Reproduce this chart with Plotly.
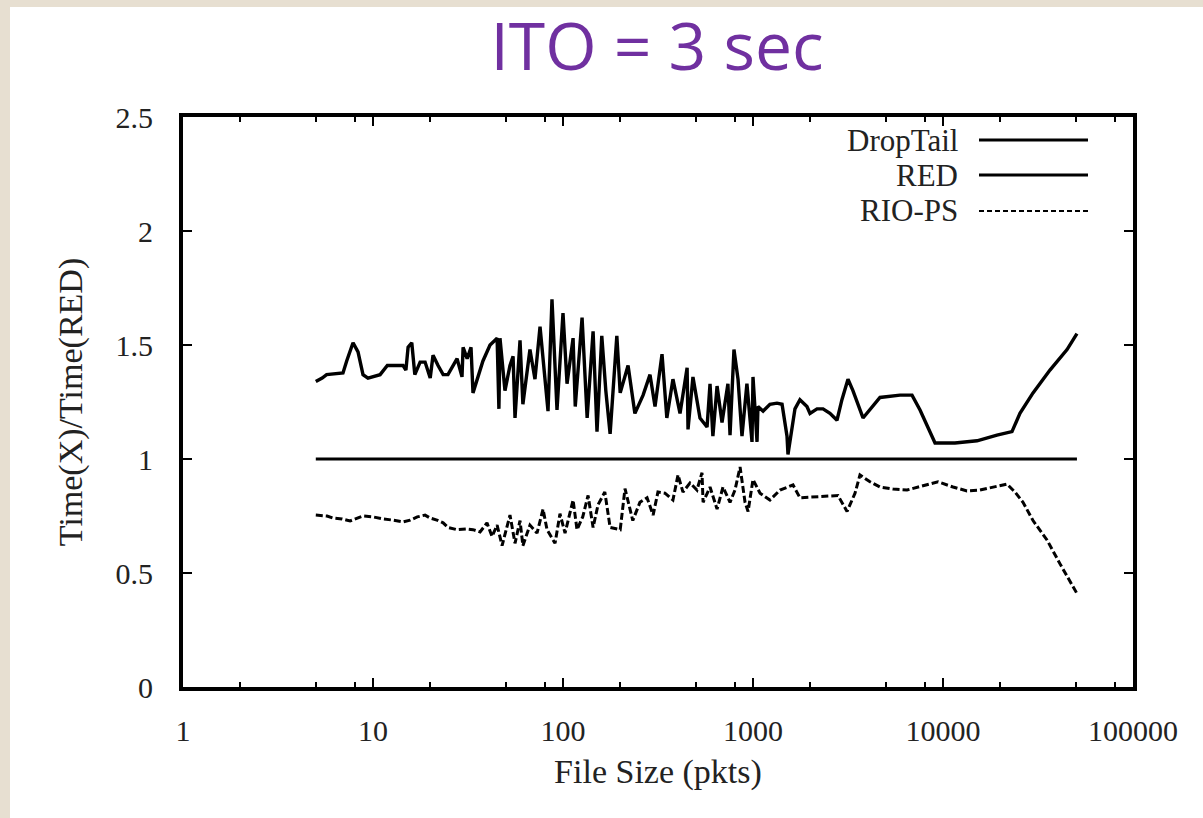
import plotly.graph_objects as go

# ---------------- data ----------------
droptail_x = [5, 5.4, 5.7, 6.95, 7.27, 7.85, 8.34, 8.86, 9.41, 10.9, 11.9, 14.4, 14.9, 15.3, 16.0,
              16.6, 17.7, 18.8, 20.0, 20.7, 22.0, 23.4, 24.8, 26.1, 27.7, 29.4, 29.8, 31.3, 32.8,
              33.6, 35.3, 37.9, 41.3, 45.0, 46.0, 46.6, 49.5, 52.6, 54.6, 55.9, 59.4, 61.5, 67.0,
              71.2, 75.7, 83.4, 87.5, 93.0, 100, 105, 113, 116, 126, 131, 134, 144, 151, 160, 168,
              177, 192, 200, 220, 239, 264, 287, 305, 332, 352, 379, 413, 450, 455, 483, 526, 573,
              594, 615, 647, 687, 738, 757, 794, 834, 875, 929, 988, 1000, 1050, 1062, 1130, 1228,
              1337, 1422, 1510, 1528, 1604, 1663, 1766, 1923, 1995, 2173, 2336, 2541, 2767, 2938,
              3162, 3357, 3793, 4660, 5940, 6870, 7570, 9080, 11560, 15100, 19230, 23070, 25410,
              29770, 36560, 44960, 50700]
droptail_y = [1.34, 1.355, 1.37, 1.377, 1.43, 1.51, 1.47, 1.37, 1.355, 1.37, 1.41, 1.41, 1.39, 1.49, 1.51,
              1.37, 1.425, 1.425, 1.355, 1.455, 1.41, 1.37, 1.37, 1.40, 1.44, 1.36, 1.49, 1.44, 1.49,
              1.29, 1.35, 1.43, 1.50, 1.53, 1.22, 1.53, 1.30, 1.41, 1.45, 1.18, 1.52, 1.24, 1.48,
              1.35, 1.58, 1.21, 1.70, 1.215, 1.64, 1.33, 1.53, 1.23, 1.62, 1.35, 1.18, 1.56, 1.12, 1.54, 1.30,
              1.11, 1.54, 1.29, 1.41, 1.20, 1.28, 1.37, 1.23, 1.46, 1.18, 1.35, 1.20, 1.40, 1.13, 1.36, 1.18, 1.14,
              1.33, 1.10, 1.32, 1.16, 1.33, 1.105, 1.48, 1.35, 1.10, 1.33, 1.075, 1.36, 1.075, 1.23, 1.21, 1.24,
              1.245, 1.24, 1.10, 1.02, 1.14, 1.22, 1.26, 1.23, 1.20, 1.22, 1.22, 1.20, 1.17, 1.26,
              1.35, 1.30, 1.18, 1.27, 1.28, 1.28, 1.215, 1.07, 1.07, 1.08, 1.105, 1.12, 1.20,
              1.29, 1.39, 1.48, 1.55]

red_x = [5, 50700]
red_y = [1.0, 1.0]

riops_x = [5, 5.73, 6.16, 6.87, 7.57, 8.24, 8.86, 10, 11.3, 12.7, 14.4, 15.7, 17.1, 18.8, 20, 21.7,
           23.4, 24.8, 27.7, 31.3, 33.6, 36.6, 39.8, 42.3, 45.0, 47.8, 52.6, 55.9, 59.4, 61.5, 67,
           73, 78.5, 82.4, 90.8, 96.4, 102.5, 113, 118.5, 127, 135.5, 144, 153, 166, 177, 200, 212,
           233, 254, 277, 298, 316, 344, 379, 403, 428, 466, 507, 539, 546, 594, 647, 695, 757, 804,
           855, 908, 942, 1000, 1089, 1228, 1387, 1624, 1766, 2069, 2800, 3126, 3443, 3656, 4126,
           4660, 5458, 6467, 7570, 9414, 11290, 13370, 15660, 18330, 21720, 23930, 26370, 29770,
           35260, 41300, 48300, 50700]
riops_y = [0.754, 0.75, 0.741, 0.737, 0.728, 0.741, 0.75, 0.746, 0.737, 0.732, 0.724, 0.732, 0.746, 0.754, 0.741, 0.732,
           0.72, 0.70, 0.69, 0.693, 0.69, 0.68, 0.72, 0.66, 0.71, 0.62, 0.754, 0.63, 0.73, 0.62, 0.71,
           0.675, 0.78, 0.69, 0.63, 0.76, 0.675, 0.82, 0.69, 0.746, 0.84, 0.70, 0.80, 0.855, 0.70, 0.69, 0.87,
           0.73, 0.81, 0.83, 0.754, 0.855, 0.85, 0.82, 0.93, 0.855, 0.895, 0.864, 0.94, 0.81, 0.877, 0.78, 0.877, 0.81, 0.864,
           0.965, 0.81, 0.77, 0.91, 0.85, 0.82, 0.864, 0.886, 0.83, 0.833, 0.84, 0.77, 0.85, 0.93, 0.90,
           0.877, 0.868, 0.864, 0.88, 0.90, 0.877, 0.86, 0.864, 0.877, 0.89, 0.855, 0.81, 0.73,
           0.645, 0.54, 0.44, 0.41]

series_names = ["DropTail", "RED", "RIO-PS"]
x_ticks = [1, 10, 100, 1000, 10000, 100000]
x_tick_text = ["1", "10", "100", "1000", "10000", "100000"]
x_minor = [2, 5, 8, 20, 50, 80, 200, 500, 800, 2000, 5000, 8000, 20000, 50000, 80000]
y_ticks = [0, 0.5, 1, 1.5, 2, 2.5]
y_tick_text = ["0", "0.5", "1", "1.5", "2", "2.5"]

# ---------------- figure ----------------
W, H = 1203, 818
L, R, T, B = 183, 70, 117, 131
pw, ph = W - L - R, H - T - B

def px_x(p):
    return (p - L) / pw

def px_y(p):
    return (H - B - p) / ph

serif = "Liberation Serif, Times New Roman, serif"

fig = go.Figure()
fig.add_trace(go.Scatter(x=droptail_x, y=droptail_y, mode="lines", name=series_names[0],
                         line=dict(color="black", width=3.4), showlegend=False))
fig.add_trace(go.Scatter(x=red_x, y=red_y, mode="lines", name=series_names[1],
                         line=dict(color="black", width=3), showlegend=False))
fig.add_trace(go.Scatter(x=riops_x, y=riops_y, mode="lines", name=series_names[2],
                         line=dict(color="black", width=3, dash="7px,3px"), showlegend=False))

axis_common = dict(showline=True, linecolor="black", linewidth=4, mirror="ticks",
                   ticks="inside", ticklen=9, tickwidth=2, tickcolor="black",
                   showgrid=False, zeroline=False,
                   tickfont=dict(family=serif, size=30, color="#222"),
                   title_font=dict(family=serif, size=34, color="#222"))

fig.update_xaxes(type="log", range=[0, 5], tickmode="array", tickvals=x_ticks, ticktext=x_tick_text,
                 ticklabelstandoff=14,
                 minor=dict(tickmode="array", tickvals=x_minor, ticks="inside", ticklen=5,
                            tickwidth=2, tickcolor="black"),
                 title=dict(text="File Size (pkts)", standoff=14), **axis_common)
fig.update_yaxes(range=[0, 2.5], tickmode="array", tickvals=y_ticks, ticktext=y_tick_text,
                 ticklabelstandoff=20,
                 title=dict(text="Time(X)/Time(RED)", standoff=24), **axis_common)

# white slide panel over beige background
fig.add_shape(type="rect", xref="paper", yref="paper",
              x0=px_x(10), x1=px_x(W + 5), y0=px_y(H + 5), y1=px_y(7),
              fillcolor="white", line=dict(width=0), layer="below")

# legend (text on the left, sample line on the right, as in the reference)
leg_rows = [140, 175, 211]
leg_dash = ["solid", "solid", "5px,3px"]
for name, yy, dsh in zip(series_names, leg_rows, leg_dash):
    fig.add_annotation(xref="paper", yref="paper", x=px_x(960), y=px_y(yy), text=name,
                       showarrow=False, xanchor="right", yanchor="middle",
                       font=dict(family=serif, size=31, color="#222"))
    fig.add_shape(type="line", xref="paper", yref="paper", x0=px_x(979), x1=px_x(1088),
                  y0=px_y(yy), y1=px_y(yy),
                  line=dict(color="black", width=3 if dsh == "solid" else 2, dash=dsh))

fig.update_layout(
    width=W, height=H,
    margin=dict(l=L, r=R, t=T, b=B),
    paper_bgcolor="#E7DFD1",
    plot_bgcolor="white",
    title=dict(text="ITO = 3 sec", x=657 / W, xanchor="center", y=1 - 47 / H, yanchor="middle",
               font=dict(family="Open Sans, Noto Sans, sans-serif", size=66, color="#7030A0")),
    showlegend=False,
)

fig.write_html("out.html")
